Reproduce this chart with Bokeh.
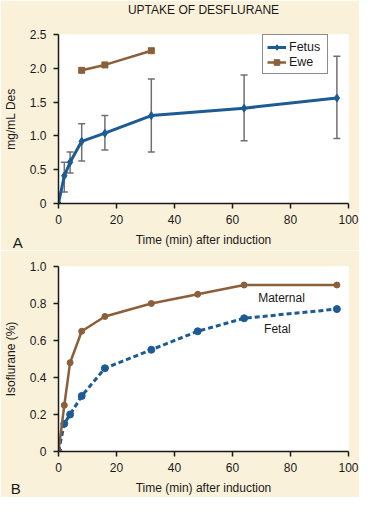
from bokeh.plotting import figure
from bokeh.layouts import column
from bokeh.models import (Range1d, FixedTicker, Whisker, TeeHead, ColumnDataSource,
                          Legend, LegendItem, Label)
from bokeh.core.properties import value
from bokeh.embed import file_html
from bokeh.resources import INLINE

# ---- data: panel A (desflurane) ----
time_a = [0, 2, 4, 8, 16, 32, 64, 96]
fetus = [0, 0.41, 0.61, 0.92, 1.04, 1.30, 1.41, 1.56]
err_time = [2, 4, 8, 16, 32, 64, 96]
fetus_lo = [0.17, 0.45, 0.63, 0.79, 0.76, 0.93, 0.96]
fetus_hi = [0.61, 0.76, 1.18, 1.30, 1.84, 1.90, 2.18]
ewe_time = [8, 16, 32]
ewe = [1.97, 2.05, 2.26]

# ---- data: panel B (isoflurane) ----
time_b = [0, 2, 4, 8, 16, 32, 48, 64, 96]
maternal = [0, 0.25, 0.48, 0.65, 0.73, 0.80, 0.85, 0.90, 0.90]
fetal = [0, 0.15, 0.20, 0.30, 0.45, 0.55, 0.65, 0.72, 0.77]

# ---- ticks / labels ----
x_ticks = [0, 20, 40, 60, 80, 100]
ya_ticks = [0, 0.5, 1.0, 1.5, 2.0, 2.5]
ya_labels = ["0", "0.5", "1.0", "1.5", "2.0", "2.5"]
yb_ticks = [0, 0.2, 0.4, 0.6, 0.8, 1.0]
yb_labels = ["0", "0.2", "0.4", "0.6", "0.8", "1.0"]

title_text = "UPTAKE OF DESFLURANE"
x_label = "Time (min) after induction"
ya_label = "mg/mL Des"
yb_label = "Isoflurane (%)"
series_labels_b = ["Maternal", "Fetal"]
series_label_pos_x = [76.9, 75.5]
series_label_pos_y = [0.83, 0.66]
# annotation anchors (data units of each panel)
title_pos = (50, 2.86)
panel_a_pos = (-15.8, -0.575)
panel_b_pos = (-16.5, -0.2)

BG = "#faf1da"
BLUE = "#1c5b94"
BROWN = "#8a5f3a"
GRAY = "#707070"
FONT = "Liberation Sans"
INK = "#1a1a1a"


def style(p, xt, yt, ylabels, ylab):
    p.background_fill_color = "white"
    p.border_fill_color = BG
    p.outline_line_color = None
    p.grid.visible = False
    p.xaxis.ticker = FixedTicker(ticks=xt)
    p.yaxis.ticker = FixedTicker(ticks=yt)
    p.yaxis.major_label_overrides = {t: l for t, l in zip(yt, ylabels)}
    for ax in (p.xaxis, p.yaxis):
        ax.axis_line_width = 1.5
        ax.axis_line_color = INK
        ax.major_tick_line_color = INK
        ax.major_tick_line_width = 1.5
        ax.major_tick_out = 5
        ax.major_tick_in = 0
        ax.minor_tick_line_color = None
        ax.major_label_text_font = FONT
        ax.major_label_text_font_size = "12px"
        ax.major_label_text_color = INK
        ax.axis_label_text_font = FONT
        ax.axis_label_text_font_size = "12px"
        ax.axis_label_text_font_style = "normal"
        ax.axis_label_text_color = INK
    p.xaxis.major_label_standoff = 6
    p.yaxis.major_label_standoff = 7
    p.xaxis.axis_label = x_label
    p.xaxis.axis_label_standoff = 6
    p.yaxis.axis_label = ylab
    p.yaxis.axis_label_standoff = 9


def panel_label(p, pos, txt):
    # placed in the narrow right side panel so it is not clipped to the frame;
    # positioned through the panel's own data scales
    p.add_layout(Label(x=pos[0], y=pos[1], text=txt, text_align="left",
                       text_baseline="alphabetic", text_font=FONT,
                       text_font_size="15px", text_color=INK), "right")


# ---------------- Panel A ----------------
p1 = figure(width=359, height=250, output_backend="svg", toolbar_location=None,
            x_range=Range1d(0, 100), y_range=Range1d(0, 2.5),
            min_border_left=51, min_border_right=11, min_border_top=34, min_border_bottom=47)
style(p1, x_ticks, ya_ticks, ya_labels, ya_label)

src_err = ColumnDataSource(dict(x=err_time, lo=fetus_lo, hi=fetus_hi))
wh = Whisker(base="x", lower="lo", upper="hi", source=src_err,
             line_color=GRAY, line_width=1.5,
             upper_head=TeeHead(size=7, line_color=GRAY, line_width=1.5),
             lower_head=TeeHead(size=7, line_color=GRAY, line_width=1.5))
p1.add_layout(wh)

l_fetus = p1.line(time_a, fetus, line_color=BLUE, line_width=3)
m_fetus = p1.scatter(time_a, fetus, marker="diamond", size=8, fill_color=BLUE, line_color=BLUE)
l_ewe = p1.line(ewe_time, ewe, line_color=BROWN, line_width=2.5)
m_ewe = p1.scatter(ewe_time, ewe, marker="square", size=6, fill_color=BROWN, line_color=BROWN)

legend = Legend(items=[LegendItem(label="Fetus", renderers=[l_fetus, m_fetus]),
                       LegendItem(label="Ewe", renderers=[l_ewe, m_ewe])],
                location=(204, 129), padding=4, spacing=0, margin=0,
                glyph_width=19, glyph_height=14, label_height=15, label_width=34,
                label_standoff=3, label_text_font=FONT, label_text_font_size="12.5px",
                label_text_color=INK,
                border_line_color=INK, border_line_width=1.5,
                background_fill_color="white", background_fill_alpha=1)
p1.add_layout(legend)

p1.add_layout(Label(x=title_pos[0], y=title_pos[1], text=title_text,
                    text_align="center", text_baseline="alphabetic",
                    text_font=FONT, text_font_size="12px", text_color=INK), "above")
panel_label(p1, panel_a_pos, "A")

# ---------------- Panel B ----------------
p2 = figure(width=359, height=247, output_backend="svg", toolbar_location=None,
            x_range=Range1d(0, 100), y_range=Range1d(0, 1.0),
            min_border_left=52, min_border_right=11, min_border_top=16, min_border_bottom=45)
style(p2, x_ticks, yb_ticks, yb_labels, yb_label)

p2.line(time_b, fetal, line_color=BLUE, line_width=3, line_dash="5 3")
p2.scatter(time_b, fetal, marker="circle", size=7, fill_color=BLUE, line_color=BLUE)
p2.line(time_b, maternal, line_color=BROWN, line_width=2.5)
p2.scatter(time_b, maternal, marker="circle", size=6, fill_color=BROWN, line_color=BROWN)

p2.text(x=series_label_pos_x, y=series_label_pos_y, text=series_labels_b,
        text_align="center", text_baseline="alphabetic",
        text_font=value(FONT), text_font_size="12px", text_color=INK)

panel_label(p2, panel_b_pos, "B")

layout = column(p1, p2, spacing=0)
open("out.html", "w").write(file_html(layout, INLINE))
